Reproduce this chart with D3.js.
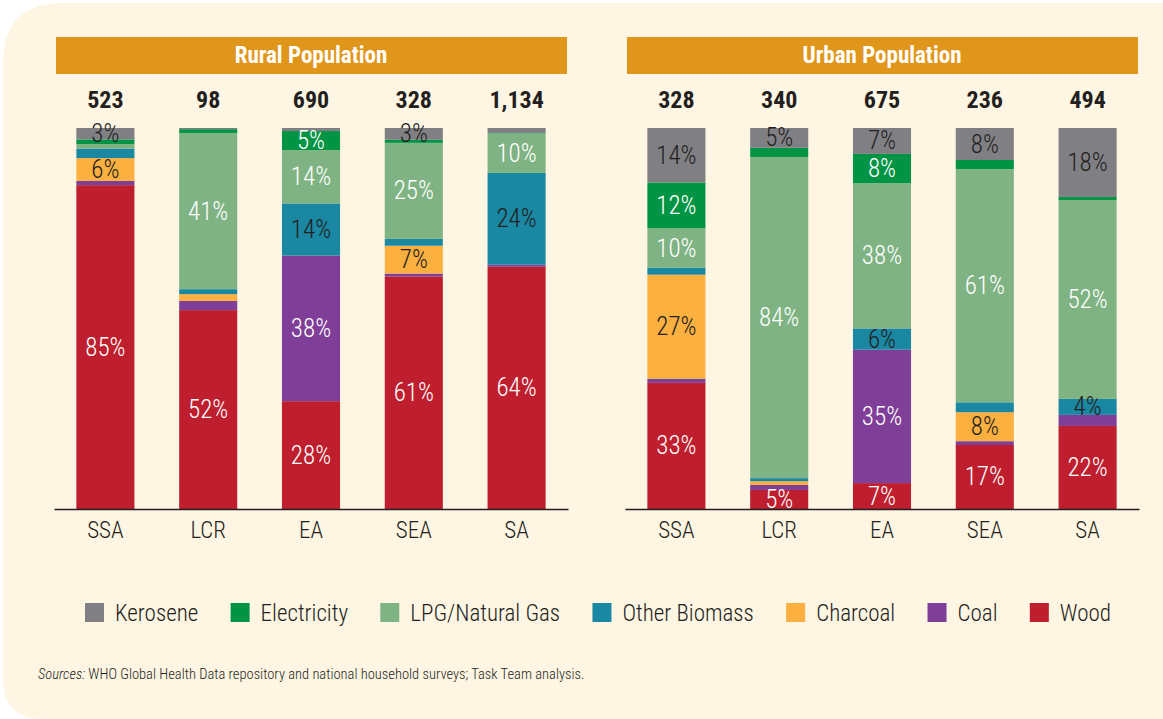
<!DOCTYPE html>
<html>
<head>
<meta charset="utf-8">
<script src="https://cdn.jsdelivr.net/npm/d3@7"></script>
<style>
  body { margin: 0; background: #ffffff; }
  svg { display: block; }
</style>
</head>
<body>
<div id="chart"></div>
<script>
// Household cooking fuel mix, rural vs urban, by region

// regions along the x axis
const regions = ["SSA", "LCR", "EA", "SEA", "SA"];
// population (millions) shown above each bar
const ruralTotals = [523, 98, 690, 328, 1134];
const urbanTotals = [328, 340, 675, 236, 494];

// fuels, top of the stack first (legend order)
const fuels = ["Kerosene", "Electricity", "LPG/Natural Gas", "Other Biomass", "Charcoal", "Coal", "Wood"];

// shares in % per region (SSA, LCR, EA, SEA, SA)
const ruralKerosene     = [3.0, 0.3, 0.8, 3.1, 1.3];
const ruralElectricity  = [1.2, 1.0, 5.0, 0.8, 0.1];
const ruralLPG          = [1.2, 41.0, 14.0, 25.2, 10.4];
const ruralOtherBiomass = [2.5, 1.3, 13.7, 1.8, 24.1];
const ruralCharcoal     = [6.0, 1.8, 0.0, 7.3, 0.0];
const ruralCoal         = [1.1, 2.4, 38.2, 0.8, 0.5];
const ruralWood         = [85.0, 52.2, 28.3, 61.0, 63.6];

const urbanKerosene     = [14.3, 5.2, 6.8, 8.4, 18.1];
const urbanElectricity  = [12.0, 2.4, 7.7, 2.4, 0.8];
const urbanLPG          = [10.4, 84.3, 38.1, 61.2, 52.2];
const urbanOtherBiomass = [1.8, 0.8, 5.6, 2.6, 4.2];
const urbanCharcoal     = [27.3, 1.0, 0.0, 7.6, 0.0];
const urbanCoal         = [1.1, 1.3, 35.0, 1.0, 2.9];
const urbanWood         = [33.1, 5.0, 6.8, 16.8, 21.8];

const fuelColors = {
    "Kerosene": "#808084",
    "Electricity": "#009444",
    "LPG/Natural Gas": "#7fb383",
    "Other Biomass": "#1a87a3",
    "Charcoal": "#fbb040",
    "Coal": "#7f3f98",
    "Wood": "#be1e2d"
};
// fuels whose labels are dark text instead of white
const darkLabelFuels = ["Kerosene", "Other Biomass", "Charcoal"];

const FONT = "'Roboto Condensed', 'Liberation Sans Narrow', 'Arial Narrow', 'DejaVu Sans Condensed', sans-serif";
const TEXT_DARK = "#231f20";
const CREAM = "#fef5e3";
const ORANGE = "#e0961a";

const W = 1163, H = 719;

// build one row per region for d3.stack
function buildRows(series) {
    return regions.map((r, i) => {
        const row = { region: r };
        fuels.forEach((f, k) => { row[f] = series[k][i]; });
        return row;
    });
}
const ruralRows = buildRows([ruralKerosene, ruralElectricity, ruralLPG, ruralOtherBiomass, ruralCharcoal, ruralCoal, ruralWood]);
const urbanRows = buildRows([urbanKerosene, urbanElectricity, urbanLPG, urbanOtherBiomass, urbanCharcoal, urbanCoal, urbanWood]);

const svg = d3.select("#chart")
    .append("svg")
    .attr("width", W)
    .attr("height", H);

// cream panel with rounded left corners
svg.append("path")
    .attr("d", `M3,63 Q3,3 63,3 L${W},3 L${W},${H} L43,${H} Q3,${H} 3,${H - 40} Z`)
    .attr("fill", CREAM);

// shared y scale (percent)
const y = d3.scaleLinear().domain([0, 100]).range([509, 128]);

function drawPanel(title, rows, totals, x0, x1) {
    const g = svg.append("g");

    // title bar
    g.append("rect")
        .attr("x", x0 + 2).attr("y", 37)
        .attr("width", x1 - x0 - 3).attr("height", 37)
        .attr("fill", ORANGE);
    g.append("text")
        .attr("x", (x0 + x1) / 2).attr("y", 63)
        .attr("text-anchor", "middle")
        .attr("fill", "white")
        .style("font-family", FONT)
        .style("font-weight", "bold")
        .style("font-size", "23px")
        .text(title);

    const x = d3.scaleBand()
        .domain(regions)
        .range([x0, x1])
        .paddingInner(0.435)
        .paddingOuter(0.2175);

    const stack = d3.stack().keys(fuels.slice().reverse());
    const layers = stack(rows);

    const layer = g.selectAll("g.layer")
        .data(layers)
        .join("g")
        .attr("class", "layer")
        .attr("fill", d => fuelColors[d.key]);

    layer.selectAll("rect")
        .data(d => d)
        .join("rect")
        .attr("x", d => x(d.data.region))
        .attr("y", d => y(d[1]))
        .attr("width", x.bandwidth())
        .attr("height", d => y(d[0]) - y(d[1]));

    // percent labels for segments of 3% or more
    layers.forEach(l => {
        l.forEach(d => {
            const v = d[1] - d[0];
            if (v < 3) return;
            g.append("text")
                .attr("x", x(d.data.region) + x.bandwidth() / 2)
                .attr("y", (y(d[0]) + y(d[1])) / 2 + 8.5)
                .attr("text-anchor", "middle")
                .attr("fill", darkLabelFuels.includes(l.key) ? TEXT_DARK : "white")
                .style("font-family", FONT)
                .style("font-weight", 300)
                .style("font-size", "25px")
                .text(Math.round(v) + "%");
        });
    });

    // totals above bars
    g.selectAll("text.total")
        .data(totals)
        .join("text")
        .attr("class", "total")
        .attr("x", (d, i) => x(regions[i]) + x.bandwidth() / 2)
        .attr("y", 108)
        .attr("text-anchor", "middle")
        .attr("fill", TEXT_DARK)
        .style("font-family", FONT)
        .style("font-weight", "bold")
        .style("font-size", "24px")
        .text(d => d3.format(",")(d));

    // x axis
    const axis = g.append("g")
        .attr("transform", `translate(0,${y(0)})`)
        .call(d3.axisBottom(x).tickSize(0).tickPadding(13));
    axis.select(".domain").attr("stroke", TEXT_DARK).attr("stroke-width", 1.6);
    axis.selectAll("text")
        .attr("fill", TEXT_DARK)
        .style("font-family", FONT)
        .style("font-weight", 300)
        .style("font-size", "23px");
}

drawPanel("Rural Population", ruralRows, ruralTotals, 54, 568);
drawPanel("Urban Population", urbanRows, urbanTotals, 625, 1139);

// legend
const legend = svg.append("g");
const items = legend.selectAll("g")
    .data(fuels)
    .join("g");
items.append("rect")
    .attr("width", 19).attr("height", 19)
    .attr("y", 603)
    .attr("fill", d => fuelColors[d]);
items.append("text")
    .attr("x", 30)
    .attr("y", 621)
    .attr("fill", TEXT_DARK)
    .style("font-family", FONT)
    .style("font-weight", 300)
    .style("font-size", "23px")
    .text(d => d);

// lay legend items out left to right, spread between 85 and 1111
const widths = [];
items.each(function() { widths.push(30 + d3.select(this).select("text").node().getComputedTextLength()); });
const legendStart = 85, legendEnd = 1111;
const gap = (legendEnd - legendStart - d3.sum(widths)) / (fuels.length - 1);
let cx = legendStart;
items.attr("transform", (d, i) => {
    const t = `translate(${cx},0)`;
    cx += widths[i] + gap;
    return t;
});

// source note
const note = svg.append("text")
    .attr("x", 38)
    .attr("y", 679)
    .attr("fill", TEXT_DARK)
    .style("font-family", FONT)
    .style("font-weight", 300)
    .style("font-size", "14.5px");
note.append("tspan").style("font-style", "italic").text("Sources:");
note.append("tspan").text(" WHO Global Health Data repository and national household surveys; Task Team analysis.");
</script>
</body>
</html>
